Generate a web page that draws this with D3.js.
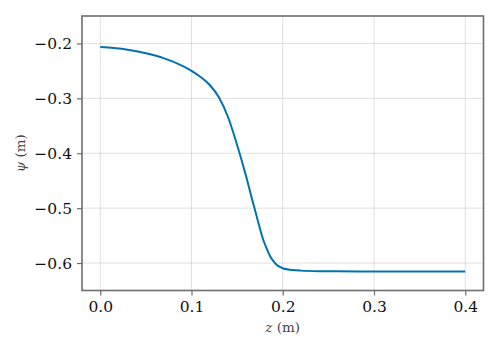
<!DOCTYPE html>
<html>
<head>
<meta charset="utf-8">
<script src="https://cdn.jsdelivr.net/npm/d3@7"></script>
<style>
  body { margin: 0; background: #fff; }
  svg { display: block; }
  svg text { font-family: "DejaVu Serif", "Liberation Serif", serif; }
</style>
</head>
<body>
<script>
// values
var zVals   = [0, 0.015, 0.03, 0.05, 0.07, 0.09, 0.1, 0.11, 0.12, 0.13, 0.14, 0.15, 0.16, 0.165, 0.17, 0.1732, 0.1787, 0.182, 0.186, 0.19, 0.1933, 0.197, 0.2005, 0.21, 0.22, 0.24, 0.26, 0.3, 0.35, 0.4];
var psiVals = [-0.2065, -0.2085, -0.2115, -0.218, -0.2272, -0.2407, -0.2498, -0.261, -0.2757, -0.298, -0.334, -0.385, -0.443, -0.475, -0.506, -0.526, -0.558, -0.572, -0.587, -0.597, -0.603, -0.607, -0.610, -0.6125, -0.6138, -0.6148, -0.615, -0.6153, -0.6153, -0.6153];
var xTicks = [0, 0.1, 0.2, 0.3, 0.4];
var yTicks = [-0.6, -0.5, -0.4, -0.3, -0.2];

var data = zVals.map(function(z, i) { return {z: z, psi: psiVals[i]}; });

// set the dimensions and margins of the graph
var margin = {top: 16, right: 16.5, bottom: 59.5, left: 82},
    width = 500 - margin.left - margin.right,
    height = 350 - margin.top - margin.bottom;

var x = d3.scaleLinear().domain([-0.02, 0.42]).range([0, width]);
var y = d3.scaleLinear().domain([-0.65, -0.15]).range([height, 0]);

var svg = d3.select("body").append("svg")
    .attr("width", 500)
    .attr("height", 350)
  .append("g")
    .attr("transform", "translate(" + margin.left + "," + margin.top + ")");

// grid lines
svg.append("g")
  .selectAll("line").data(xTicks).enter().append("line")
    .attr("x1", function(d) { return x(d); })
    .attr("x2", function(d) { return x(d); })
    .attr("y1", 0).attr("y2", height)
    .attr("stroke", "#000").attr("stroke-opacity", 0.12).attr("stroke-width", 1);

svg.append("g")
  .selectAll("line").data(yTicks).enter().append("line")
    .attr("y1", function(d) { return y(d); })
    .attr("y2", function(d) { return y(d); })
    .attr("x1", 0).attr("x2", width)
    .attr("stroke", "#000").attr("stroke-opacity", 0.12).attr("stroke-width", 1);

var fmt = function(d) { return d3.format(".1f")(d).replace("-", "\u2212"); };

// axes
var xAxis = svg.append("g")
    .attr("transform", "translate(0," + height + ")")
    .call(d3.axisBottom(x).tickValues(xTicks).tickFormat(fmt).tickSize(5).tickPadding(5));

var yAxis = svg.append("g")
    .call(d3.axisLeft(y).tickValues(yTicks).tickFormat(fmt).tickSize(5).tickPadding(5));

[xAxis, yAxis].forEach(function(a) {
  a.select(".domain").remove();
  a.selectAll(".tick line").attr("stroke", "#6e6e6e").attr("stroke-width", 1.2);
  a.selectAll(".tick text")
    .attr("font-family", null)
    .attr("font-size", "15.5px")
    .attr("fill", "#111");
});

// frame
svg.append("rect")
    .attr("x", 0).attr("y", 0)
    .attr("width", width).attr("height", height)
    .attr("fill", "none")
    .attr("stroke", "#6e6e6e")
    .attr("stroke-width", 1.6);

// the curve
var line = d3.line()
    .x(function(d) { return x(d.z); })
    .y(function(d) { return y(d.psi); })
    .curve(d3.curveMonotoneX);

svg.append("path")
    .datum(data)
    .attr("fill", "none")
    .attr("stroke", "#0072b2")
    .attr("stroke-width", 2)
    .attr("d", line);

// axis titles
var xt = svg.append("text")
    .attr("font-size", "13.5px")
    .attr("fill", "#444")
    .attr("text-anchor", "middle")
    .attr("x", width / 2)
    .attr("y", height + 41);
xt.append("tspan").attr("font-style", "italic").text("z");
xt.append("tspan").text(" (m)");

var yt = svg.append("text")
    .attr("font-size", "13.5px")
    .attr("fill", "#444")
    .attr("text-anchor", "middle")
    .attr("transform", "translate(-57," + (height / 2) + ") rotate(-90)");
yt.append("tspan").attr("font-style", "italic").text("\u03c8");
yt.append("tspan").text(" (m)");
</script>
</body>
</html>
